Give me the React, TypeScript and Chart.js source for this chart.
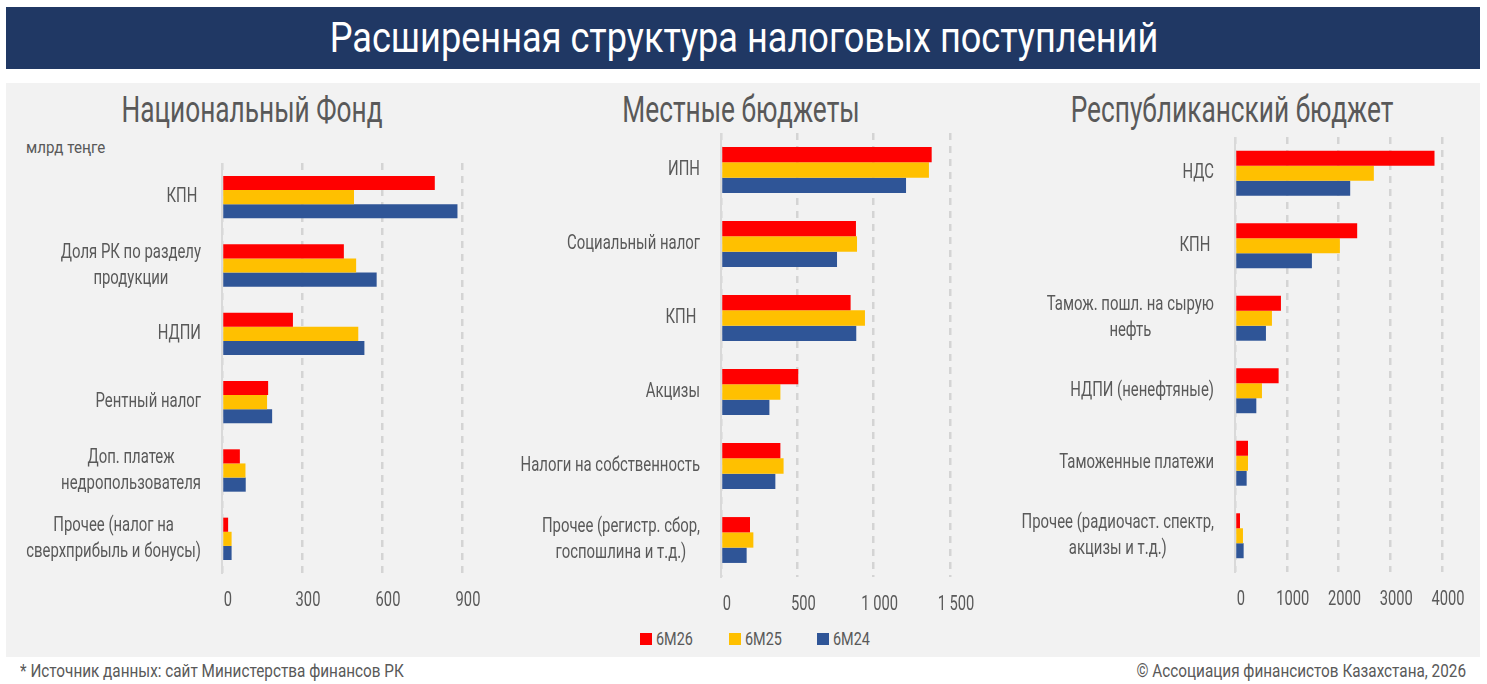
import { useEffect, useRef } from "react";
import { Chart, registerables } from "chart.js";

Chart.register(...registerables);

const FONT = "Roboto, 'Noto Sans', sans-serif";
const TEXT = "#595959";
const LABEL_K = 0.745; // horizontal squeeze, the original uses a condensed face
const TICK_K = 0.7;

const series = ["6M26", "6M25", "6M24"];
const seriesColors = ["#ff0000", "#ffc000", "#2f5597"];

// Национальный Фонд
const fundLabels = [["КПН "], ["Доля РК по разделу", "продукции"], ["НДПИ"], ["Рентный налог"], ["Доп. платеж", "недропользователя"], ["Прочее (налог на", "сверхприбыль и бонусы)"]];
const fund26 = [798, 457, 266, 173, 67, 23];
const fund25 = [495, 503, 511, 169, 88, 36];
const fund24 = [883, 580, 534, 188, 89, 36];
const fundMax = 900;
const fundStep = 300;

// Местные бюджеты
const localLabels = [["ИПН"], ["Социальный налог"], ["КПН "], ["Акцизы"], ["Налоги на собственность"], ["Прочее (регистр. сбор,", "госпошлина и т.д.)"]];
const local26 = [1380, 884, 849, 506, 389, 190];
const local25 = [1362, 891, 943, 389, 410, 212];
const local24 = [1212, 760, 886, 317, 356, 168];
const localMax = 1500;
const localStep = 500;

// Республиканский бюджет
const repLabels = [["НДС"], ["КПН "], ["Тамож. пошл. на сырую", "нефть"], ["НДПИ (ненефтяные)"], ["Таможенные платежи"], ["Прочее (радиочаст. спектр,", "акцизы и т.д.)"]];
const rep26 = [3855, 2361, 888, 843, 251, 97];
const rep25 = [2683, 2027, 714, 521, 251, 154];
const rep24 = [2226, 1486, 598, 412, 225, 167];
const repMax = 4000;
const repStep = 1000;

function squeezed(ctx: CanvasRenderingContext2D, s: string, x: number, y: number, k: number) {
  ctx.save();
  ctx.translate(x, y);
  ctx.scale(k, 1);
  ctx.fillText(s, 0, 0);
  ctx.restore();
}

// axis texts, placed from the chart's own scales
const axisText = {
  id: "axisText",
  afterDraw(chart: any) {
    const { ctx, chartArea } = chart;
    const { x, y } = chart.scales;
    const spaced = chart.options.spacedTicks;
    ctx.save();
    ctx.fillStyle = TEXT;
    ctx.textBaseline = "middle";
    ctx.textAlign = "center";

    ctx.font = `20px ${FONT}`;
    (chart.data.labels as string[][]).forEach((lines, i) => {
      const w = Math.max(...lines.map((s) => ctx.measureText(s).width)) * LABEL_K;
      const cx = chartArea.left - 21 - w / 2;
      const cy = y.getPixelForValue(i);
      lines.forEach((s, j) => squeezed(ctx, s, cx, cy + (j - (lines.length - 1) / 2) * 26, LABEL_K));
    });

    ctx.font = `21px ${FONT}`;
    x.ticks.forEach((t: any) => {
      const v = t.value;
      const s = spaced && v >= 1000 ? String(v).replace(/(\d)(\d{3})$/, "$1 $2") : String(v);
      squeezed(ctx, s, x.getPixelForValue(v) + 6, chartArea.bottom + 28, TICK_K);
    });
    ctx.restore();
  },
};

type PanelProps = {
  labels: string[][];
  values: number[][];
  max: number;
  step: number;
  spaced?: boolean;
  left: number;
  top: number;
  width: number;
  height: number;
  axisWidth: number;
  padRight: number;
};

function BarPanel({ labels, values, max, step, spaced, left, top, width, height, axisWidth, padRight }: PanelProps) {
  const canvasRef = useRef<HTMLCanvasElement | null>(null);

  useEffect(() => {
    if (!canvasRef.current) return;
    const chart = new Chart(canvasRef.current, {
      type: "bar",
      data: {
        labels,
        datasets: values.map((v, i) => ({
          label: series[i],
          data: v,
          backgroundColor: seriesColors[i],
          categoryPercentage: 0.62,
          barPercentage: 1,
        })),
      },
      options: {
        animation: false,
        responsive: true,
        maintainAspectRatio: false,
        indexAxis: "y",
        spacedTicks: !!spaced,
        layout: { padding: { left: 0, right: padRight, top: 0, bottom: 0 } },
        plugins: { legend: { display: false }, tooltip: { enabled: false } },
        scales: {
          x: {
            min: 0,
            max,
            ticks: { stepSize: step, display: false },
            grid: { color: "#d4d4d4", lineWidth: 2.5, drawTicks: false },
            border: { display: false, dash: [7, 6] },
            afterFit: (s: any) => {
              s.height = 45;
            },
          },
          y: {
            ticks: { display: false },
            grid: { display: false },
            border: { display: true, color: "#d9d9d9", width: 2 },
            afterFit: (s: any) => {
              s.width = axisWidth;
            },
          },
        },
      } as any,
      plugins: [axisText],
    });
    return () => chart.destroy();
  }, [labels, values, max, step, spaced, axisWidth, padRight]);

  return (
    <div style={{ position: "absolute", left, top, width, height }}>
      <canvas ref={canvasRef}></canvas>
    </div>
  );
}

type TxtProps = { x: number; top: number; size: number; align: "left" | "center" | "right"; color?: string; squeeze: number; children: any };

// x is the left edge, the centre or the right edge depending on align
function Txt({ x, top, size, align, color = TEXT, squeeze, children }: TxtProps) {
  const box: any = { position: "absolute", top, width: 1400, whiteSpace: "nowrap", fontFamily: FONT, fontSize: size, color, lineHeight: `${Math.round(size * 1.2)}px`, textAlign: align, transform: `scaleX(${squeeze})`, transformOrigin: align };
  if (align === "left") box.left = x;
  if (align === "center") box.left = x - 700;
  if (align === "right") box.left = x - 1400;
  return <div style={box}>{children}</div>;
}

export default function App() {
  return (
    <div style={{ position: "absolute", left: 0, top: 0, width: 1487, height: 684, background: "#fff", overflow: "hidden" }}>
      <div style={{ position: "absolute", left: 6, top: 7, width: 1474, height: 62, background: "#203864" }}></div>
      <Txt x={744} top={13} size={42} align="center" color="#ffffff" squeeze={0.86}>
        Расширенная структура налоговых поступлений
      </Txt>
      <div style={{ position: "absolute", left: 6, top: 83, width: 1474, height: 574, background: "#f2f2f2" }}></div>

      <Txt x={252} top={88} size={37} align="center" squeeze={0.71}>Национальный Фонд</Txt>
      <Txt x={741} top={88} size={37} align="center" squeeze={0.71}>Местные бюджеты</Txt>
      <Txt x={1232} top={88} size={37} align="center" squeeze={0.71}>Республиканский бюджет</Txt>
      <Txt x={26} top={137} size={17} align="left" squeeze={0.89}>млрд теңге</Txt>

      <BarPanel labels={fundLabels} values={[fund26, fund25, fund24]} max={fundMax} step={fundStep}
        left={10} top={163} width={480} height={455} axisWidth={212} padRight={28} />
      <BarPanel labels={localLabels} values={[local26, local25, local24]} max={localMax} step={localStep} spaced
        left={505} top={133} width={480} height={489} axisWidth={216} padRight={35} />
      <BarPanel labels={repLabels} values={[rep26, rep25, rep24]} max={repMax} step={repStep}
        left={1000} top={137} width={480} height={480} axisWidth={235} padRight={38} />

      {series.map((s, i) => (
        <div key={s}>
          <div style={{ position: "absolute", left: 640 + i * 88.5, top: 633, width: 12, height: 12, background: seriesColors[i] }}></div>
          <Txt x={656 + i * 88.5} top={628} size={18} align="left" squeeze={0.8}>{s}</Txt>
        </div>
      ))}

      <Txt x={20} top={660} size={18} align="left" squeeze={0.85}>* Источник данных: сайт Министерства финансов РК</Txt>
      <Txt x={1466} top={660} size={18} align="right" squeeze={0.85}>© Ассоциация финансистов Казахстана, 2026</Txt>
    </div>
  );
}
